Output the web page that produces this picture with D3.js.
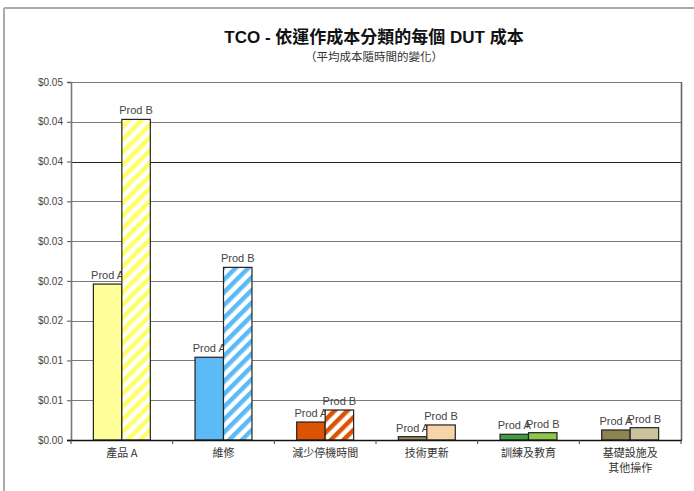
<!DOCTYPE html>
<html><head><meta charset="utf-8">
<script src="https://cdn.jsdelivr.net/npm/d3@7"></script>
<style>
html,body{margin:0;padding:0;background:#fff;}
svg{display:block;font-family:"Liberation Sans",Arial,"Noto Sans CJK TC",sans-serif;}
</style></head>
<body>
<svg id="chart" width="694" height="491"></svg>
<script>
const categories = ["產品 A", "維修", "減少停機時間", "技術更新", "訓練及教育", "基礎設施及\n其他操作"];
const seriesNames = ["Prod A", "Prod B"];
const prodA = [0.0196, 0.0104, 0.00226, 0.00042, 0.00072, 0.00126];
const prodB = [0.0403, 0.0217, 0.00377, 0.00189, 0.00092, 0.00155];
const colorsA = ["#FFFF99", "#5CBBF6", "#DD5304", "#9A8A66", "#3F9E3F", "#8C8552"];
const colorsB = ["#FFFF66", "#5CBBF6", "#DD5304", "#F6D4A8", "#8DC64A", "#C9C49B"];
const hatchedB = [true, true, true, false, false, false];
const yTicks = [0, 0.005, 0.01, 0.015, 0.02, 0.025, 0.03, 0.035, 0.04, 0.045];
const yTickLabels = ["$0.00", "$0.01", "$0.01", "$0.02", "$0.02", "$0.03", "$0.03", "$0.04", "$0.04", "$0.05"];
const title = "TCO - 依運作成本分類的每個 DUT 成本";
const subtitle = "（平均成本隨時間的變化）";

const svg = d3.select("#chart");
const L = 71, R = 681, T = 82, B = 440;

// outer frame
svg.append("line").attr("x1", 4).attr("x2", 694).attr("y1", 8).attr("y2", 8).attr("stroke", "#aaa").attr("stroke-width", 2);
svg.append("line").attr("x1", 4).attr("x2", 4).attr("y1", 8).attr("y2", 491).attr("stroke", "#aaa").attr("stroke-width", 2);

const y = d3.scaleLinear().domain([0, 0.045]).range([B, T]);
const x0 = d3.scaleBand().domain(categories).range([L, R]).paddingInner(0.44).paddingOuter(0.22);
const x1 = d3.scaleBand().domain(seriesNames).range([0, x0.bandwidth()]);

// patterns
const defs = svg.append("defs");
colorsB.forEach((c, i) => {
  const p = defs.append("pattern").attr("id", "hatch" + i).attr("patternUnits", "userSpaceOnUse")
    .attr("width", 9).attr("height", 9).attr("patternTransform", "rotate(45)");
  p.append("rect").attr("width", 9).attr("height", 9).attr("fill", "#fff");
  p.append("rect").attr("width", 4.5).attr("height", 9).attr("fill", c);
});

// gridlines
svg.append("g").selectAll("line").data(yTicks.slice(1)).join("line")
  .attr("x1", L).attr("x2", R).attr("y1", d => Math.round(y(d)) + 0.5).attr("y2", d => Math.round(y(d)) + 0.5)
  .attr("stroke", d => Math.abs(d - 0.035) < 1e-9 ? "#222" : "#7a7a7a").attr("stroke-width", 1.2);

// plot border right
svg.append("line").attr("x1", R + 0.5).attr("x2", R + 0.5).attr("y1", T).attr("y2", B).attr("stroke", "#666").attr("stroke-width", 1.6);

// y axis
const yAxis = d3.axisLeft(y).tickValues(yTicks).tickFormat((d, i) => yTickLabels[i]).tickSize(4).tickPadding(4);
const gy = svg.append("g").attr("transform", `translate(${L},0)`).call(yAxis);
gy.select(".domain").attr("stroke", "#777").attr("stroke-width", 1.6);
gy.selectAll(".tick line").attr("stroke", "#555");
gy.selectAll(".tick text").attr("fill", "#444").attr("font-size", 10).attr("font-family", "Liberation Sans, Arial, sans-serif");

// bars
const groups = svg.append("g").selectAll("g").data(categories).join("g")
  .attr("transform", d => `translate(${x0(d)},0)`);
groups.each(function(cat, i) {
  const g = d3.select(this);
  const vals = [prodA[i], prodB[i]];
  vals.forEach((v, j) => {
    const fill = j === 0 ? colorsA[i] : (hatchedB[i] ? `url(#hatch${i})` : colorsB[i]);
    g.append("rect").attr("x", x1(seriesNames[j])).attr("y", y(v))
      .attr("width", x1.bandwidth()).attr("height", B - y(v))
      .attr("fill", fill).attr("stroke", "#222").attr("stroke-width", 1.2);
    g.append("text").attr("x", x1(seriesNames[j]) + x1.bandwidth() / 2).attr("y", y(v) - 5)
      .attr("text-anchor", "middle").attr("font-size", 11).attr("fill", "#444").text(seriesNames[j]);
  });
});

// x axis
const xAxisLine = svg.append("g");
xAxisLine.append("line").attr("x1", L - 4).attr("x2", R + 1).attr("y1", B + 0.5).attr("y2", B + 0.5).attr("stroke", "#111").attr("stroke-width", 1.4);
const step = (R - L) / categories.length;
xAxisLine.selectAll("line.tk").data(d3.range(categories.length + 1)).join("line").attr("class", "tk")
  .attr("x1", d => L + d * step).attr("x2", d => L + d * step).attr("y1", B).attr("y2", B + 4).attr("stroke", "#444");
svg.append("g").selectAll("text").data(categories).join("text")
  .attr("x", d => x0(d) + x0.bandwidth() / 2).attr("y", 457)
  .attr("text-anchor", "middle").attr("font-size", 11).attr("fill", "#333")
  .attr("font-family", "Noto Sans CJK TC, sans-serif")
  .each(function(d) {
    const lines = d.split("\n");
    const t = d3.select(this);
    lines.forEach((ln, k) => t.append("tspan").attr("x", t.attr("x")).attr("dy", k === 0 ? 0 : 15).text(ln));
  });

// titles
svg.append("text").attr("x", 374).attr("y", 43).attr("text-anchor", "middle")
  .attr("font-size", 17).attr("font-weight", "bold").attr("fill", "#111")
  .attr("font-family", "Liberation Sans, Noto Sans CJK TC, sans-serif").text(title);
svg.append("text").attr("x", 374).attr("y", 61).attr("text-anchor", "middle")
  .attr("font-size", 11.5).attr("fill", "#333")
  .attr("font-family", "Noto Sans CJK TC, sans-serif").text(subtitle);
</script>
</body></html>
